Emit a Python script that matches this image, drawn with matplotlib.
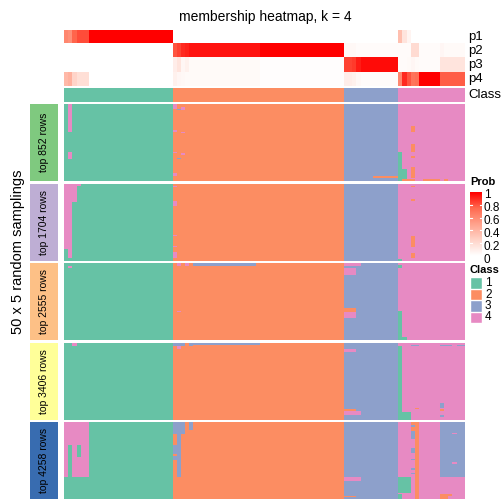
import numpy as np
import matplotlib.pyplot as plt
from matplotlib.colors import ListedColormap, LinearSegmentedColormap

plt.rcParams["font.family"] = ["Liberation Sans", "DejaVu Sans"]

# ---- data ----
class_names = ["1", "2", "3", "4"]
class_counts = [26, 41, 13, 16]
class_colors = ["#66C2A5", "#FC8D62", "#8DA0CB", "#E78AC3"]

slice_names = ["top 852 rows", "top 1704 rows", "top 2555 rows",
               "top 3406 rows", "top 4258 rows"]
slice_colors = ["#7FC97F", "#BEAED4", "#FDC086", "#FFFF99", "#386CB0"]
n_samplings = 50

# membership probabilities, one value per sample (grouped by class)
p1 = ([0.62, 0.58, 0.76, 0.82, 0.82, 0.82, 1, 1, 1, 1, 1, 1, 1, 1, 1, 1, 1, 1, 1,
       1, 1, 1, 1, 1, 1, 1]
      + [0] * 41
      + [0] * 13
      + [0.35, 0.15, 0.06, 0, 0, 0, 0, 0, 0, 0, 0, 0, 0, 0, 0, 0])
p2 = ([0] * 26
      + [0.80, 0.84, 0.90, 0.92, 0.95, 0.95, 0.95, 0.95, 0.95, 0.95, 0.95, 0.95,
         0.95, 0.95, 0.95, 0.95, 0.95, 0.95, 0.95, 0.95, 0.95, 1, 1, 1, 1, 1, 1,
         1, 1, 1, 1, 1, 1, 1, 1, 1, 1, 1, 1, 1, 1]
      + [0.04, 0.04, 0.04, 0.02, 0.02, 0.02, 0.02, 0.02, 0.02, 0.02, 0.02, 0.02, 0.02]
      + [0.02, 0.02, 0.02, 0.2, 0.2, 0.02, 0.02, 0.02, 0.02, 0.02, 0.05, 0.03,
         0.03, 0.03, 0.03, 0.03])
p3 = ([0] * 26
      + [0.10, 0.15, 0.05, 0.08, 0.03, 0.03, 0.03, 0.03, 0.03, 0.03, 0.03, 0.03,
         0.03, 0.03, 0.03, 0.03, 0.03, 0.03, 0.03, 0.03, 0.03, 0.01, 0.01, 0.01,
         0.01, 0.01, 0.01, 0.01, 0.01, 0.01, 0.01, 0.01, 0.01, 0.01, 0.01, 0.01,
         0.01, 0.01, 0.01, 0.01, 0.01]
      + [0.84, 0.84, 0.86, 0.93, 0.97, 0.97, 0.97, 0.97, 0.97, 0.97, 0.97, 0.97, 0.97]
      + [0.02, 0.02, 0.03, 0.05, 0.03, 0.02, 0.02, 0.02, 0.02, 0.02, 0.15, 0.15,
         0.15, 0.15, 0.15, 0.15])
p4 = ([0.38, 0.42, 0.24, 0.18, 0.18, 0.18, 0, 0, 0, 0, 0, 0, 0, 0, 0, 0, 0, 0, 0,
       0, 0, 0, 0, 0, 0, 0]
      + [0.08, 0.05, 0.04, 0.03, 0.03, 0.03, 0.03, 0.03, 0.03, 0.03, 0.03, 0.03,
         0.03, 0.03, 0.03, 0.03, 0.03, 0.03, 0.03, 0.03, 0.03, 0.01, 0.01, 0.01,
         0.01, 0.01, 0.01, 0.01, 0.01, 0.01, 0.01, 0.01, 0.01, 0.01, 0.01, 0.01,
         0.01, 0.01, 0.01, 0.01, 0.01]
      + [0.10, 0.10, 0.08, 0.04, 0.02, 0.02, 0.02, 0.02, 0.02, 0.02, 0.02, 0.02, 0.02]
      + [0.62, 0.90, 0.80, 0.70, 0.72, 1, 1, 1, 1, 1, 0.78, 0.78, 0.78, 0.78,
         0.78, 0.78])

# cells that differ from the consensus class in each slice:
# (first row, last row, first sample, last sample, class)
diff_852 = [(0, 17, 1, 1, 4), (31, 35, 1, 1, 4), (0, 2, 26, 26, 4), (2, 3, 28, 28, 4),
            (3, 3, 27, 27, 3), (17, 17, 26, 26, 4), (18, 18, 28, 28, 4),
            (31, 31, 26, 26, 4), (32, 32, 28, 28, 4), (35, 35, 27, 27, 3),
            (45, 46, 26, 26, 4), (14, 17, 83, 83, 2), (26, 30, 83, 83, 2),
            (34, 34, 83, 83, 2), (41, 47, 83, 83, 2), (31, 49, 80, 80, 1),
            (42, 49, 81, 81, 1), (47, 47, 74, 79, 2), (49, 49, 81, 83, 2),
            (49, 49, 86, 89, 2), (49, 49, 91, 91, 2)]
diff_1704 = [(0, 0, 0, 3, 4), (0, 11, 0, 2, 4), (12, 41, 0, 1, 4), (42, 47, 1, 1, 4),
             (1, 1, 26, 26, 4), (11, 13, 26, 26, 4), (33, 33, 26, 26, 4),
             (40, 40, 26, 26, 4), (44, 47, 26, 26, 4), (1, 1, 83, 83, 2),
             (10, 10, 83, 83, 2), (34, 40, 83, 83, 2), (45, 47, 83, 83, 2),
             (49, 49, 80, 80, 1)]
diff_2555 = [(2, 2, 1, 1, 4), (0, 1, 27, 27, 4), (0, 1, 29, 29, 4), (0, 1, 31, 45, 3),
             (31, 31, 27, 27, 4), (0, 1, 67, 70, 4), (3, 7, 67, 69, 4),
             (29, 31, 67, 69, 2), (32, 35, 67, 69, 4), (1, 2, 80, 80, 1),
             (31, 49, 80, 80, 1), (48, 49, 81, 81, 1)]
diff_3406 = [(0, 1, 2, 2, 4), (0, 1, 26, 28, 3), (0, 1, 30, 30, 3), (0, 0, 31, 46, 3),
             (2, 3, 27, 27, 4), (4, 5, 67, 69, 4), (2, 44, 80, 80, 1),
             (45, 49, 80, 82, 1), (1, 1, 83, 84, 3), (1, 1, 90, 92, 3),
             (1, 1, 94, 95, 3), (42, 42, 84, 84, 2), (39, 41, 90, 90, 3),
             (43, 43, 90, 90, 2), (47, 47, 90, 90, 3), (43, 43, 67, 69, 2),
             (44, 46, 67, 70, 4)]
diff_4258 = [(0, 35, 0, 5, 4), (15, 35, 1, 1, 1), (15, 22, 3, 3, 1),
             (0, 7, 26, 28, 3), (8, 35, 27, 27, 3), (15, 20, 26, 26, 3),
             (22, 24, 26, 26, 3), (0, 4, 30, 30, 3), (36, 37, 67, 70, 4),
             (48, 48, 67, 69, 2), (0, 49, 84, 84, 2), (0, 1, 83, 83, 2),
             (2, 2, 83, 83, 3), (3, 5, 83, 83, 2), (6, 10, 83, 83, 3),
             (17, 19, 83, 83, 3), (24, 24, 83, 83, 3), (30, 30, 83, 83, 3),
             (33, 33, 83, 83, 3), (0, 35, 90, 95, 3), (7, 7, 93, 93, 4),
             (26, 26, 93, 93, 4), (36, 45, 80, 82, 1), (47, 49, 80, 80, 1),
             (47, 47, 90, 92, 2), (48, 49, 90, 91, 2)]
slice_diffs = [diff_852, diff_1704, diff_2555, diff_3406, diff_4258]

# ---- figure ----
W = H = 504
fig = plt.figure(figsize=(5.04, 5.04), dpi=100)


def box(x, y, w, h):
    # pixel box, origin at top-left
    ax = fig.add_axes([x / W, 1 - (y + h) / H, w / W, h / H])
    ax.set_axis_off()
    return ax


class_cmap = ListedColormap(class_colors)
prob_cmap = LinearSegmentedColormap.from_list(
    "prob", [(0, "#FFFFFF"), (0.25, "#FFD3C7"), (0.5, "#FFA28C"),
             (0.75, "#FF6A50"), (1, "#FF0000")])

sample_class = np.repeat(np.arange(1, 5), class_counts)
hx0, hx1 = 64, 465

# probability rows
ax = box(hx0, 30, hx1 - hx0, 56.5)
ax.imshow(np.array([p1, p2, p3, p4]), cmap=prob_cmap, vmin=0, vmax=1,
          aspect="auto", interpolation="nearest")
for i, lab in enumerate(["p1", "p2", "p3", "p4"]):
    fig.text(468 / W, 1 - (37 + 14 * i) / H, lab, fontsize=9.5, va="center")

# class row
ax = box(hx0, 88, hx1 - hx0, 14)
ax.imshow(sample_class[None, :], cmap=class_cmap, vmin=0.5, vmax=4.5,
          aspect="auto", interpolation="nearest")
fig.text(468 / W, 1 - 95 / H, "Class", fontsize=9.5, va="center")

# sampling slices
slice_top = [104, 184, 263, 343, 422]
slice_h = 77
for k in range(5):
    mat = np.tile(sample_class, (n_samplings, 1))
    for r0, r1, c0, c1, cl in slice_diffs[k]:
        mat[r0:r1 + 1, c0:c1 + 1] = cl
    ax = box(hx0, slice_top[k], hx1 - hx0, slice_h)
    ax.imshow(mat, cmap=class_cmap, vmin=0.5, vmax=4.5,
              aspect="auto", interpolation="nearest")

    lab = box(30, slice_top[k], 28, slice_h)
    lab.set_axis_on()
    lab.set_xticks([])
    lab.set_yticks([])
    for s in lab.spines.values():
        s.set_visible(False)
    lab.set_facecolor(slice_colors[k])
    lab.text(0.5, 0.5, slice_names[k], rotation=90, ha="center", va="center",
             fontsize=7.5, transform=lab.transAxes)

fig.text(18 / W, 1 - 252 / H, "50 x 5 random samplings", rotation=90,
         ha="center", va="center", fontsize=10.5)
fig.text(265 / W, 1 - 17 / H, "membership heatmap, k = 4", ha="center",
         va="center", fontsize=10)

# Prob legend
fig.text(470 / W, 1 - 182 / H, "Prob", fontsize=8, fontweight="bold", va="center")
cb = box(470, 192, 12, 64)
cb.imshow(np.linspace(1, 0, 100)[:, None], cmap=prob_cmap, vmin=0, vmax=1,
          aspect="auto", extent=[0, 1, 0, 1])
for v in [0.2, 0.4, 0.6, 0.8]:
    cb.plot([0, 0.2], [v, v], color="white", lw=0.8)
    cb.plot([0.8, 1], [v, v], color="white", lw=0.8)
cb.set_xlim(0, 1)
cb.set_ylim(0, 1)
for v in [0, 0.2, 0.4, 0.6, 0.8, 1]:
    fig.text(484 / W, 1 - (260 - 65 * v) / H, "%g" % v, fontsize=8.5, va="center")

# Class legend
fig.text(470 / W, 1 - 270 / H, "Class", fontsize=8, fontweight="bold", va="center")
for i, c in enumerate(class_colors):
    ax = box(470, 277 + 11.5 * i, 12, 11.5)
    ax.add_patch(plt.Rectangle((0, 0), 1, 1, facecolor=c, edgecolor="white", lw=1))
    fig.text(485 / W, 1 - (283 + 11.5 * i) / H, class_names[i], fontsize=8.5,
             va="center")

fig.savefig("out.png", dpi=100)
